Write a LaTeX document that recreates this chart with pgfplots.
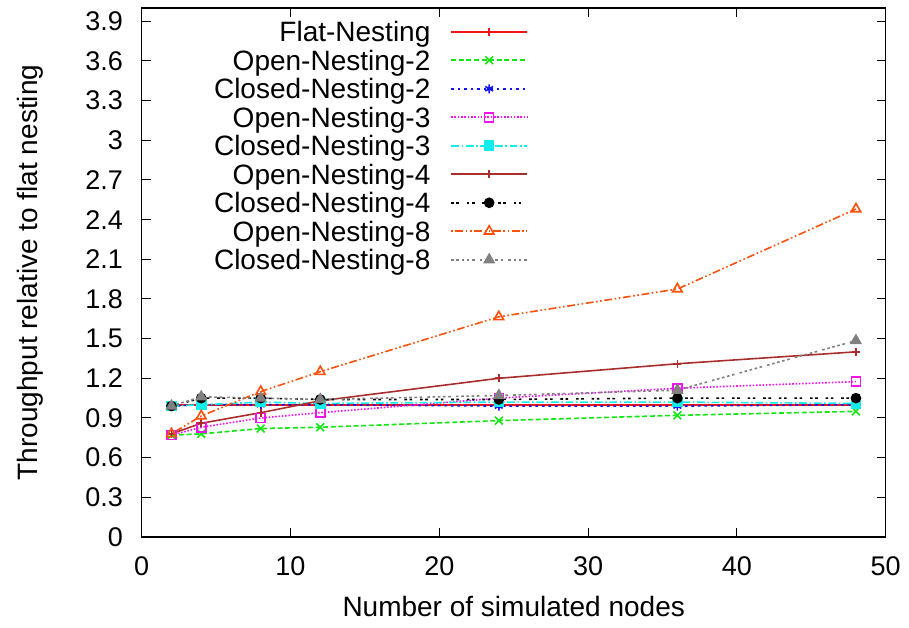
\documentclass[border=0pt]{standalone}
\usepackage{pgfplots}
\pgfplotsset{compat=1.18}
\usepackage{fontspec}
\setmainfont{Liberation Sans}

% gnuplot-style line colours
\definecolor{gpRed}{RGB}{240,20,20}
\definecolor{gpGreen}{RGB}{20,230,20}
\definecolor{gpBlue}{RGB}{20,20,240}
\definecolor{gpMagenta}{RGB}{240,20,240}
\definecolor{gpCyan}{RGB}{20,235,235}
\definecolor{gpBrown}{RGB}{170,45,45}
\definecolor{gpBlack}{RGB}{0,0,0}
\definecolor{gpOrange}{RGB}{250,80,10}
\definecolor{gpGray}{RGB}{128,128,128}

\begin{document}
\begin{tikzpicture}
\useasboundingbox (-141.7bp,-91bp) rectangle (767.3bp,537bp);
\begin{axis}[
  at={(0,0)}, anchor=south west,
  scale only axis, width=744bp, height=529bp,
  xmin=0, xmax=50, ymin=0, ymax=4,
  xtick={0,10,20,30,40,50},
  ytick={0,0.3,0.6,0.9,1.2,1.5,1.8,2.1,2.4,2.7,3,3.3,3.6,3.9},
  tick align=inside, major tick length=9bp,
  axis line style={line width=1.3bp},
  every tick/.style={black, line width=1bp},
  /pgf/number format/assume math mode=true,
  ticklabel style={font=\fontsize{27bp}{32bp}\selectfont},
  xticklabel style={inner sep=0pt, anchor=north, yshift=-19.7bp},
  yticklabel style={inner sep=0pt, anchor=east, xshift=-18.7bp},
  every axis x label/.style={at={(axis description cs:0.5,0)}, yshift=-79bp, anchor=base},
  every axis y label/.style={at={(axis description cs:0,0.5)}, xshift=-103.7bp, rotate=90, anchor=base},
  label style={font=\fontsize{28bp}{33bp}\selectfont},
  xlabel={Number of simulated nodes},
  ylabel={Throughput relative to flat nesting},
  legend plot pos=right,
  legend cell align=right,
  legend style={draw=none, fill=none, at={(axis description cs:0.5192,0.982)}, anchor=north east,
    inner sep=0pt, outer sep=0pt, row sep=0pt, column sep=20bp,
    font=\fontsize{28bp}{33bp}\selectfont,
    nodes={inner sep=0pt, text height=24.25bp, text depth=4.25bp}},
  legend image code/.code={\draw[mark repeat=2,mark phase=2,#1] plot coordinates {(0bp,0bp) (38bp,0bp) (76bp,0bp)};},
  every axis plot/.append style={line width=1.6bp},
]
% Flat nesting is the baseline (1.0)
\addplot[color=gpRed, mark=+, mark size=4bp, mark options={solid}] coordinates {(2,1) (4,1) (8,1) (12,1) (24,1) (36,1) (48,1)};
\addlegendentry{Flat-Nesting}
\addplot[color=gpGreen, dash pattern=on 5bp off 2.6bp, mark=x, mark size=5.5bp, mark options={solid}] coordinates {(2,0.77) (4,0.78) (8,0.82) (12,0.83) (24,0.88) (36,0.92) (48,0.95)};
\addlegendentry{Open-Nesting-2}
\addplot[color=gpBlue, dash pattern=on 2.6bp off 3.9bp, mark=asterisk, mark size=4.5bp, mark options={solid}] coordinates {(2,0.99) (4,1.00) (8,1.00) (12,1.00) (24,0.99) (36,0.99) (48,1.00)};
\addlegendentry{Closed-Nesting-2}
\addplot[color=gpMagenta, dash pattern=on 1.6bp off 1.7bp, mark=square, mark size=4.5bp, mark options={solid}] coordinates {(2,0.77) (4,0.83) (8,0.90) (12,0.94) (24,1.05) (36,1.125) (48,1.175)};
\addlegendentry{Open-Nesting-3}
\addplot[color=gpCyan, dash pattern=on 7.8bp off 2.6bp on 1.6bp off 2.6bp, mark=square*, mark size=4.5bp, mark options={solid}] coordinates {(2,0.99) (4,1.00) (8,1.02) (12,1.01) (24,1.02) (36,1.02) (48,1.01)};
\addlegendentry{Closed-Nesting-3}
\addplot[color=gpBrown, mark=+, mark size=4bp, mark options={solid}] coordinates {(2,0.78) (4,0.86) (8,0.94) (12,1.03) (24,1.20) (36,1.31) (48,1.40)};
\addlegendentry{Open-Nesting-4}
\addplot[color=gpBlack, dash pattern=on 2.6bp off 2.6bp on 2.6bp off 7.8bp, mark=*, mark size=4.5bp, mark options={solid}] coordinates {(2,0.99) (4,1.05) (8,1.05) (12,1.04) (24,1.04) (36,1.05) (48,1.05)};
\addlegendentry{Closed-Nesting-4}
\addplot[color=gpOrange, dash pattern=on 1.6bp off 2.6bp on 7.8bp off 2.6bp on 1.6bp off 2.6bp, mark=triangle, mark size=5.5bp, mark options={solid}] coordinates {(2,0.78) (4,0.915) (8,1.10) (12,1.25) (24,1.665) (36,1.875) (48,2.48)};
\addlegendentry{Open-Nesting-8}
\addplot[color=gpGray, dash pattern=on 2.6bp off 2.6bp on 2.6bp off 2.6bp on 2.6bp off 2.6bp on 2.6bp off 2.6bp on 2.6bp off 5.2bp, mark=triangle*, mark size=5.5bp, mark options={solid}] coordinates {(2,0.99) (4,1.06) (8,1.05) (12,1.04) (24,1.07) (36,1.11) (48,1.485)};
\addlegendentry{Closed-Nesting-8}
\end{axis}
\end{tikzpicture}
\end{document}
